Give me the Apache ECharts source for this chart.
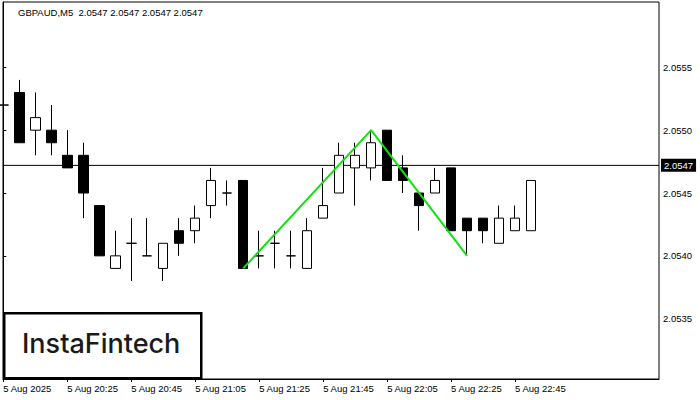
<!DOCTYPE html>
<html>
<head>
<meta charset="utf-8">
<script src="https://cdn.jsdelivr.net/npm/echarts@6/dist/echarts.min.js"></script>
<style>
html,body{margin:0;padding:0;background:#fff;}
#chart{width:700px;height:400px;}
</style>
</head>
<body>
<div id="chart"></div>
<script>
// ---- data ----
const symbolTitle = "GBPAUD,M5  2.0547 2.0547 2.0547 2.0547";
const opens  = [2.0552,2.0553,2.0550,2.0550,2.0548,2.0548,2.0544,2.0539,2.0541,2.0540,2.0539,2.0542,2.0542,2.0544,2.0545,2.0546,2.0540,2.0541,2.0540,2.0539,2.0543,2.0545,2.0547,2.0547,2.0550,2.0547,2.0545,2.0545,2.0547,2.0543,2.0543,2.0541,2.0542,2.0542];
const closes = [2.0552,2.0549,2.0551,2.0549,2.0547,2.0545,2.0540,2.0540,2.0541,2.0540,2.0541,2.0541,2.0543,2.0546,2.0545,2.0539,2.0540,2.0541,2.0540,2.0542,2.0544,2.0548,2.0548,2.0549,2.0546,2.0546,2.0544,2.0546,2.0542,2.0542,2.0542,2.0543,2.0543,2.0546];
const lows   = [2.0550,2.0549,2.0548,2.0548,2.0547,2.0543,2.0540,2.0539,2.0538,2.0540,2.0538,2.0540,2.0541,2.0543,2.0544,2.0539,2.0539,2.0539,2.0539,2.0539,2.0543,2.0545,2.0544,2.0546,2.0546,2.0545,2.0542,2.0545,2.0542,2.0540,2.0541,2.0541,2.0542,2.0542];
const highs  = [2.0554,2.0554,2.0553,2.0552,2.0550,2.0549,2.0544,2.0542,2.0543,2.0543,2.0541,2.0543,2.0544,2.0547,2.0546,2.0546,2.0542,2.0542,2.0542,2.0543,2.0547,2.0549,2.0549,2.0550,2.0550,2.0548,2.0545,2.0547,2.0547,2.0543,2.0543,2.0544,2.0544,2.0546];
const tickIndex  = [0,4,8,12,16,20,24,28,32];
const tickLabels = ["5 Aug 2025","5 Aug 20:25","5 Aug 20:45","5 Aug 21:05","5 Aug 21:25","5 Aug 21:45","5 Aug 22:05","5 Aug 22:25","5 Aug 22:45"];
const priceTicks = [2.0535,2.0540,2.0545,2.0550,2.0555];
const currentPrice = 2.05472;
const currentPriceLabel = "2.0547";
const patternX = [15,23,29];
const patternY = [2.0539,2.0550,2.0540];
const logoText = "InstaFintech";

// ---- chart ----
const chart = echarts.init(document.getElementById('chart'), null, {renderer:'svg', width:700, height:400});
const FONT = 'Liberation Sans';
const X_MIN = -0.02, X_MAX = 41;
const candleData = opens.map((o,i)=>[i, o, closes[i], lows[i], highs[i]]);
const patternData = patternX.map((x,i)=>[x, patternY[i]]);
const priceLineData = [[X_MIN, currentPrice],[X_MAX, currentPrice]];

chart.setOption({
  animation:false,
  backgroundColor:'#ffffff',
  title:{
    text:symbolTitle, left:18, top:7, padding:0,
    textStyle:{fontFamily:FONT, fontSize:9.5, fontWeight:'normal', color:'#000'}
  },
  grid:{left:3, right:41, top:2, bottom:21, show:true, borderColor:'#000', borderWidth:1, backgroundColor:'transparent'},
  xAxis:{
    type:'value', min:X_MIN, max:X_MAX,
    axisLine:{show:true, lineStyle:{color:'#000', width:1}},
    axisTick:{show:true, length:3, inside:false, customValues:tickIndex, lineStyle:{color:'#000'}},
    axisLabel:{show:true, customValues:tickIndex, align:'left', margin:4,
      fontFamily:FONT, fontSize:9.5, color:'#000',
      formatter:function(v){ const k = tickIndex.indexOf(Math.round(v)); return k>=0 ? tickLabels[k] : ''; }},
    splitLine:{show:false}
  },
  yAxis:{
    type:'value', position:'right', min:2.05302, max:2.05602, scale:true,
    axisLine:{show:true, lineStyle:{color:'#000', width:1}},
    axisTick:{show:true, length:3, customValues:priceTicks, lineStyle:{color:'#000'}},
    axisLabel:{show:true, customValues:priceTicks, margin:4,
      fontFamily:FONT, fontSize:9.5, color:'#000',
      formatter:function(v){ return v.toFixed(4); }},
    splitLine:{show:false}
  },
  series:[
    {
      type:'line',
      data:priceLineData,
      showSymbol:false, symbol:'none', silent:true, clip:false,
      lineStyle:{color:'#000', width:1},
      endLabel:{show:true, formatter:currentPriceLabel, distance:2,
        backgroundColor:'#000', color:'#fff', fontFamily:FONT, fontSize:9.5, padding:[2,3,1,3]},
      z:1
    },
    {
      type:'candlestick',
      data:candleData,
      encode:{x:0, y:[1,2,3,4]},
      barWidth:10,
      clip:true,
      itemStyle:{color:'#ffffff', color0:'#000000', borderColor:'#000000', borderColor0:'#000000', borderWidth:1},
      z:2
    },
    {
      type:'line',
      data:patternData,
      showSymbol:false, symbol:'none',
      lineStyle:{color:'#11e011', width:2},
      z:5
    }
  ],
  graphic:[
    {type:'rect', left:3, top:312, shape:{width:197, height:65},
      style:{fill:'#fff', stroke:'#000', lineWidth:2.5}, z:100},
    {type:'text', left:22, top:330,
      style:{text:logoText, fill:'#1a1a1a', font:'500 27px Inter'}, z:101}
  ]
});
</script>
</body>
</html>
